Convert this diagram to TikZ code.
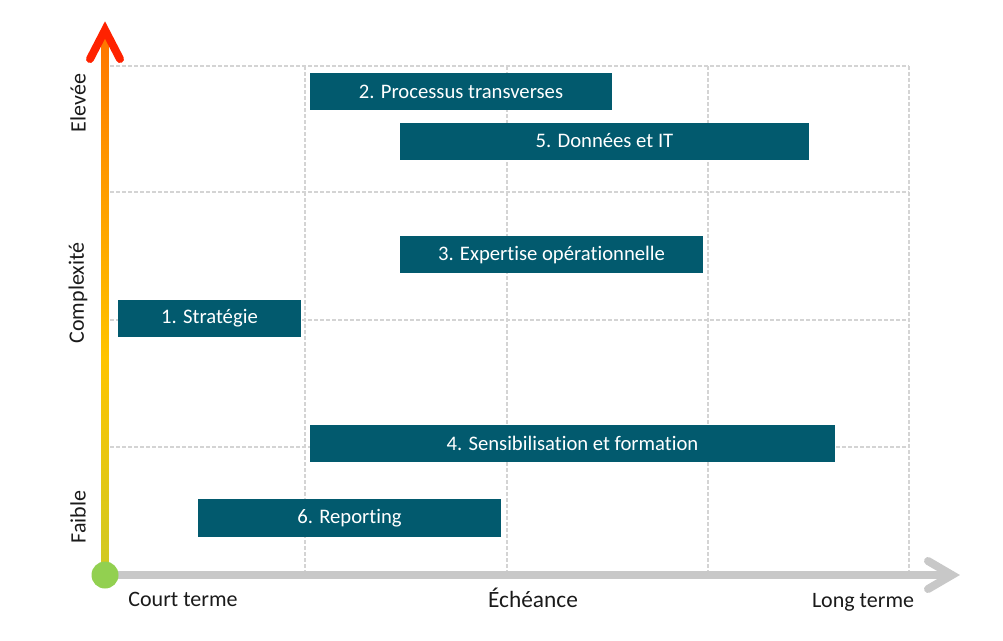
\documentclass[tikz,border=0pt]{standalone}
\usepackage{fontspec}
\setmainfont{Carlito}[Ligatures=NoCommon]
\definecolor{teal1}{HTML}{025A6E}
\definecolor{gridc}{HTML}{D4D4D4}
\definecolor{axisgray}{HTML}{C8C8C8}
\definecolor{txt}{HTML}{1A1A1A}
\definecolor{gtop}{HTML}{FF2200}
\definecolor{gor}{HTML}{FF8A00}
\definecolor{gyel}{HTML}{FFC400}
\definecolor{ggrn}{HTML}{92D050}
\pgfdeclareverticalshading{axisgrad}{100bp}{color(0bp)=(ggrn); color(45bp)=(gyel); color(68bp)=(gor); color(100bp)=(gtop)}
\tikzset{
  bar/.style={fill=teal1, text=white, font=\fontsize{15.5}{18}\selectfont, inner sep=0pt, minimum height=27.75pt},
  gridline/.style={draw=gridc, line width=1.2pt, dash pattern=on 3pt off 1.5pt},
  axlabel/.style={text=txt, font=\fontsize{16.5}{20}\selectfont, inner sep=0pt},
}
\begin{document}
\begin{tikzpicture}[x=0.75pt,y=-0.75pt]
\useasboundingbox (0,0) rectangle (1003,640);
% grid
\foreach \yy in {66,192,320,447} \draw[gridline] (110,\yy) -- (909,\yy);
\foreach \xx in {305,507,708,909} \draw[gridline] (\xx,66) -- (\xx,572);
% horizontal axis
\coordinate (origin) at (105,575);
\coordinate (xend) at (950,575);
\coordinate (xtip) at (952,575);
\draw[axisgray, line width=6pt] (origin) -- (xend);
\draw[axisgray, line width=6pt, line cap=round, line join=miter] (928,561) -- (xtip) -- (928,589);
% vertical axis
\coordinate (ytip) at (105,30);
\shade[shading=axisgrad] (101.5,575) rectangle (108.5,32);
\draw[gtop, line width=6pt, line cap=round, line join=miter] (90,59) -- (ytip) -- (120,59);
\fill[ggrn] (origin) circle (13.5);
% axis labels
\node[axlabel, rotate=90] (elev) at (78,103) {Elevée};
\node[axlabel, rotate=90] (compl) at (78,293) {Complexité};
\node[axlabel, rotate=90] (faib) at (78,517) {Faible};
\node[axlabel, anchor=base] (court) at (183,606) {Court terme};
\node[axlabel, anchor=base, font=\fontsize{17.5}{20}\selectfont] (ech) at (533,607) {Échéance};
\node[axlabel, anchor=base] (long) at (863,607) {Long terme};
% bars
\node[bar, minimum width=137.25pt] (b1) at (209.5,318.5) {1. Stratégie};
\node[bar, minimum width=226.5pt] (b2) at (461,91.5) {2. Processus transverses};
\node[bar, minimum width=306.75pt] (b5) at (604.5,141) {5. Données et IT};
\node[bar, minimum width=227.25pt] (b3) at (551.5,254.5) {3. Expertise opérationnelle};
\node[bar, minimum width=393.75pt] (b4) at (572.5,443.5) {4. Sensibilisation et formation};
\node[bar, minimum width=227.25pt, minimum height=28.5pt] (b6) at (349.5,518) {6. Reporting};
\end{tikzpicture}
\end{document}
